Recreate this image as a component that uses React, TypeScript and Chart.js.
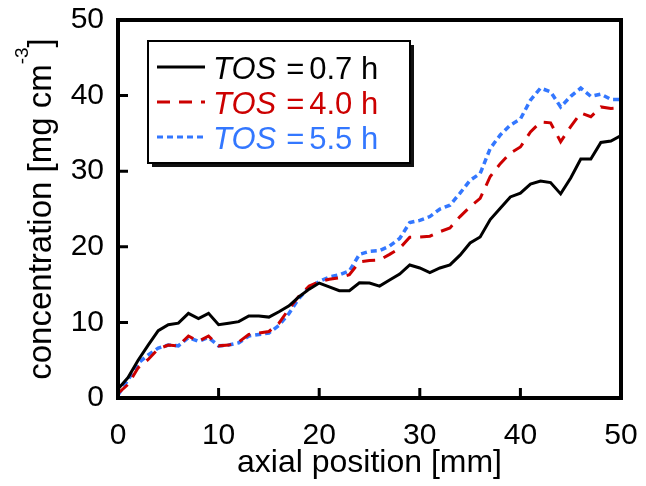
import React, { useEffect, useRef } from "react";
import { Chart, registerables } from "chart.js";

Chart.register(...registerables);

const positions = [0, 1, 2, 3, 4, 5, 6, 7, 8, 9, 10, 11, 12, 13, 14, 15, 16, 17, 18, 19, 20, 21, 22, 23, 24, 25, 26, 27, 28, 29, 30, 31, 32, 33, 34, 35, 36, 37, 38, 39, 40, 41, 42, 43, 44, 45, 46, 47, 48, 49, 50];

const tos07 = [1.2, 2.7, 5.0, 7.0, 8.9, 9.7, 9.9, 11.2, 10.5, 11.2, 9.7, 9.9, 10.1, 10.85, 10.85, 10.7, 11.4, 12.2, 13.4, 14.4, 15.2, 14.7, 14.2, 14.2, 15.25, 15.2, 14.8, 15.6, 16.4, 17.6, 17.2, 16.6, 17.2, 17.6, 18.9, 20.5, 21.3, 23.6, 25.1, 26.6, 27.1, 28.3, 28.7, 28.5, 27.0, 29.1, 31.6, 31.6, 33.8, 34.0, 34.7];

const tos40 = [0.6, 1.8, 4.0, 5.1, 6.5, 7.0, 6.9, 8.2, 7.5, 8.2, 6.9, 7.0, 7.4, 8.4, 8.6, 8.8, 9.9, 11.8, 13.5, 14.8, 15.4, 15.7, 15.9, 16.3, 18.0, 18.2, 18.25, 19.0, 19.8, 21.25, 21.3, 21.4, 22.0, 22.5, 24.0, 25.3, 26.4, 29.3, 31.0, 32.4, 33.2, 35.2, 36.5, 36.4, 33.9, 35.9, 37.7, 37.2, 38.5, 38.3, 38.4];

const tos55 = [0.4, 2.4, 4.6, 5.7, 6.6, 7.0, 6.9, 8.0, 7.5, 8.0, 6.9, 7.0, 7.3, 8.2, 8.4, 8.6, 9.6, 11.2, 13.2, 14.6, 15.4, 16.0, 16.3, 16.8, 19.0, 19.4, 19.5, 20.1, 21.1, 23.2, 23.5, 24.0, 25.0, 25.5, 27.1, 28.8, 29.7, 33.0, 34.8, 36.1, 36.9, 39.4, 41.0, 40.5, 38.5, 39.9, 41.0, 39.9, 40.2, 39.5, 39.5];

const seriesLabels = ["0.7 h", "4.0 h", "5.5 h"];
const seriesPrefix = "TOS";
const innerTicks = [10, 20, 30, 40];
const xTitle = "axial position [mm]";
const yTitleMain = "concentration [mg cm";
const yTitleSup = "-3";
const yTitleEnd = "]";

const FONT = "'Liberation Sans', Arial, Helvetica, sans-serif";
const COLORS = ["#000000", "#cc0000", "#3377ff"];
const DASHES: number[][] = [[], [13, 9], [6, 4]];

const framePlugin = {
  id: "framePlugin",
  afterDraw(chart: any) {
    const { ctx, chartArea: ca, scales } = chart;
    ctx.save();
    ctx.strokeStyle = "#000";
    ctx.lineWidth = 4;
    ctx.setLineDash([]);
    ctx.strokeRect(ca.left, ca.top, ca.right - ca.left, ca.bottom - ca.top);
    ctx.lineWidth = 3;
    ctx.beginPath();
    innerTicks.forEach((v) => {
      const px = scales.x.getPixelForValue(v);
      ctx.moveTo(px, ca.bottom);
      ctx.lineTo(px, ca.bottom - 10);
      const py = scales.y.getPixelForValue(v);
      ctx.moveTo(ca.left, py);
      ctx.lineTo(ca.left + 10, py);
    });
    ctx.stroke();

    // y title with superscript
    const cy = (ca.top + ca.bottom) / 2;
    ctx.save();
    ctx.translate(51, cy);
    ctx.rotate(-Math.PI / 2);
    ctx.fillStyle = "#000";
    ctx.textBaseline = "alphabetic";
    ctx.textAlign = "left";
    const mainFont = `33px ${FONT}`;
    const supFont = `19px ${FONT}`;
    ctx.font = mainFont;
    const w1 = ctx.measureText(yTitleMain).width;
    const w3 = ctx.measureText(yTitleEnd).width;
    ctx.font = supFont;
    const w2 = ctx.measureText(yTitleSup).width;
    let x = -(w1 + w2 + w3) / 2;
    ctx.font = mainFont;
    ctx.fillText(yTitleMain, x, 0);
    x += w1;
    ctx.font = supFont;
    ctx.fillText(yTitleSup, x, -23);
    x += w2;
    ctx.font = mainFont;
    ctx.fillText(yTitleEnd, x, 0);
    ctx.restore();

    // legend
    const bx = ca.left + 30;
    const by = ca.top + 21;
    const bw = 262;
    const bh = 122;
    ctx.fillStyle = "#111";
    ctx.fillRect(bx + 4, by + 4, bw, bh);
    ctx.fillStyle = "#fff";
    ctx.fillRect(bx, by, bw, bh);
    ctx.lineWidth = 2;
    ctx.strokeStyle = "#000";
    ctx.strokeRect(bx, by, bw, bh);
    seriesLabels.forEach((lab, i) => {
      const ry = by + 26 + i * 35;
      ctx.strokeStyle = COLORS[i];
      ctx.lineWidth = 3;
      ctx.setLineDash(DASHES[i]);
      ctx.beginPath();
      ctx.moveTo(bx + 9, ry);
      ctx.lineTo(bx + 57, ry);
      ctx.stroke();
      ctx.setLineDash([]);
      ctx.fillStyle = COLORS[i];
      ctx.textBaseline = "alphabetic";
      ctx.textAlign = "left";
      let tx = bx + 65;
      const ty = ry + 11.5;
      ctx.font = `italic 31px ${FONT}`;
      ctx.fillText(seriesPrefix, tx, ty);
      tx += ctx.measureText(seriesPrefix).width + 10;
      ctx.font = `31px ${FONT}`;
      ctx.fillText("=", tx, ty);
      tx += ctx.measureText("=").width + 5;
      ctx.fillText(lab, tx, ty);
    });
    ctx.restore();
  },
};

export default function App() {
  const ref = useRef<HTMLCanvasElement | null>(null);
  useEffect(() => {
    if (!ref.current) return;
    const series = [tos07, tos40, tos55];
    const chart = new Chart(ref.current, {
      type: "line",
      data: {
        datasets: series.map((s, i) => ({
          label: `${seriesPrefix} = ${seriesLabels[i]}`,
          data: positions.map((p, j) => ({ x: p, y: s[j] })),
          borderColor: COLORS[i],
          borderWidth: i === 2 ? 3.5 : 3,
          borderDash: DASHES[i],
          pointRadius: 0,
          tension: 0,
          fill: false,
        })),
      },
      options: {
        responsive: false,
        animation: false,
        layout: { padding: { top: 20, right: 25, left: 0, bottom: 0 } },
        plugins: { legend: { display: false }, tooltip: { enabled: false } },
        scales: {
          x: {
            type: "linear",
            min: 0,
            max: 50,
            afterFit: (s: any) => {
              s.height = 88;
              s.paddingLeft = 0;
              s.paddingRight = 0;
            },
            ticks: {
              stepSize: 10,
              color: "#000",
              padding: 20,
              maxRotation: 0,
              font: { family: FONT, size: 30 },
            },
            grid: { display: false, drawTicks: false },
            border: { display: false },
            title: {
              display: true,
              text: xTitle,
              color: "#000",
              font: { family: FONT, size: 32 },
              padding: { top: 0, bottom: 4 },
            },
          },
          y: {
            type: "linear",
            min: 0,
            max: 50,
            afterFit: (s: any) => {
              s.width = 118;
              s.paddingTop = 0;
              s.paddingBottom = 0;
            },
            ticks: {
              stepSize: 10,
              color: "#000",
              padding: 14,
              font: { family: FONT, size: 30 },
            },
            grid: { display: false, drawTicks: false },
            border: { display: false },
          },
        },
      },
      plugins: [framePlugin],
    });
    return () => chart.destroy();
  }, []);
  return (
    <div style={{ position: "absolute", left: 0, top: 0, width: 646, height: 486, background: "#fff" }}>
      <canvas ref={ref} width={646} height={486} style={{ width: 646, height: 486, display: "block" }} />
    </div>
  );
}
